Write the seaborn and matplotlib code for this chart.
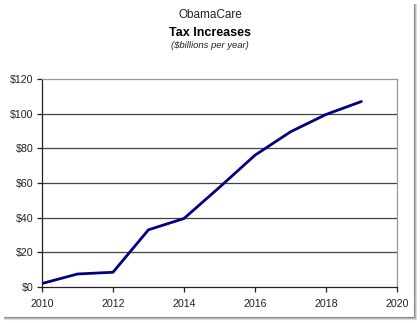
import matplotlib
matplotlib.use("Agg")
import matplotlib.pyplot as plt
import seaborn as sns
import pandas as pd
from matplotlib.lines import Line2D

years = [2010, 2011, 2012, 2013, 2014, 2015, 2016, 2017, 2018, 2019]
tax_increase = [2, 7.5, 8.5, 33, 39.5, 57.5, 76, 89.5, 99.5, 107]
x_ticks = [2010, 2012, 2014, 2016, 2018, 2020]
y_ticks = [0, 20, 40, 60, 80, 100, 120]
y_tick_labels = ["$0", "$20", "$40", "$60", "$80", "$100", "$120"]

sns.set_theme(style="white")
plt.rcParams["font.family"] = ["Liberation Sans", "DejaVu Sans"]

df = pd.DataFrame({"year": years, "tax": tax_increase})

fig = plt.figure(figsize=(4.2, 3.23), dpi=100)
ax = fig.add_axes([0.1, 0.1115, 0.845, 0.644])

for v in y_ticks[1:-1]:
    ax.axhline(v, color="#444444", lw=0.9, zorder=1)

sns.lineplot(data=df, x="year", y="tax", ax=ax, color="#000080",
             linewidth=2.0, zorder=3)

ax.set_xlim(2010, 2020)
ax.set_ylim(0, 120)
ax.set_xticks(x_ticks)
ax.set_xticklabels([str(t) for t in x_ticks])
ax.set_yticks(y_ticks)
ax.set_yticklabels(y_tick_labels)
ax.set_xlabel("")
ax.set_ylabel("")
ax.tick_params(axis="both", which="both", direction="out", length=3.5,
               width=0.9, color="#222222", labelsize=7.7,
               labelcolor="#222222", left=True, bottom=True)
ax.tick_params(axis="x", pad=5)
ax.tick_params(axis="y", pad=2.5)

for side in ["left", "bottom"]:
    ax.spines[side].set_color("#222222")
    ax.spines[side].set_linewidth(0.9)
for side in ["top", "right"]:
    ax.spines[side].set_color("#9a9a9a")
    ax.spines[side].set_linewidth(0.9)

fig.text(0.5, 1 - 15 / 323, "ObamaCare", ha="center", va="center",
         fontsize=8.5, color="#222222")
fig.text(0.5, 1 - 32.5 / 323, "Tax Increases", ha="center", va="center",
         fontsize=9.0, fontweight="bold", color="#000000")
fig.text(0.5, 1 - 46 / 323, "($billions per year)", ha="center", va="center",
         fontsize=6.8, fontstyle="italic", color="#222222")

# drop-shadow frame on the right and bottom edges
for off, col in [(0, "#8a8a8a"), (1, "#b5b5b5"), (2, "#dcdcdc")]:
    xr = (414 + off) / 420
    yb = 1 - (317 + off) / 323
    fig.add_artist(Line2D([xr, xr], [yb, 1 - 4 / 323],
                          transform=fig.transFigure, color=col, lw=0.8))
    fig.add_artist(Line2D([4 / 420, xr], [yb, yb],
                          transform=fig.transFigure, color=col, lw=0.8))

fig.savefig("out.png", dpi=100)
